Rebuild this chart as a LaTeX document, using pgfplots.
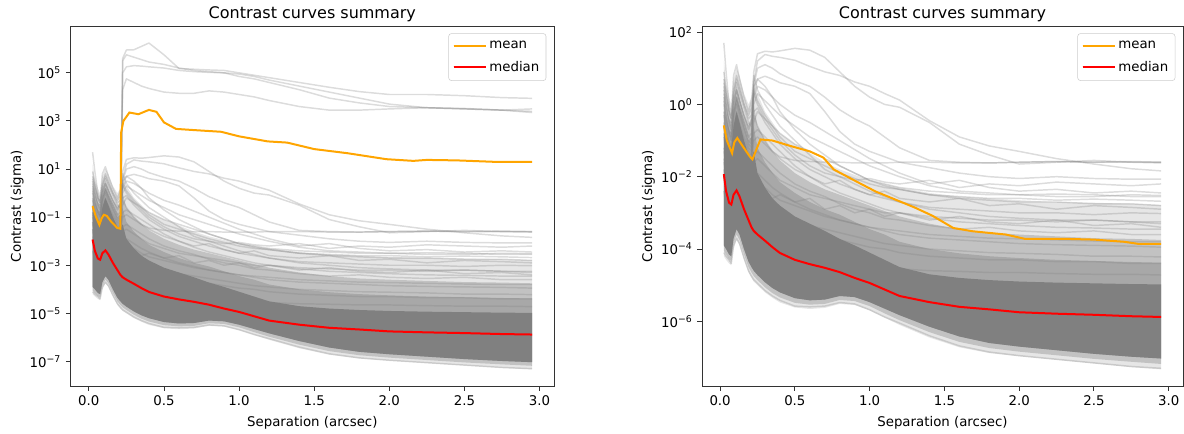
\documentclass[border=0pt]{standalone}
\usepackage{fontspec}
\setmainfont{DejaVu Sans}
\usepackage{pgfplots}
\usepackage{pgfplotstable}
\pgfplotsset{compat=1.18}
\usepgfplotslibrary{fillbetween}

\definecolor{mplorange}{RGB}{255,165,0}
\definecolor{mplred}{RGB}{255,0,0}
\definecolor{mplgray}{RGB}{128,128,128}

% all y values are log10(contrast)
% envelope of the bulk of the curves: outer, middle, upper dense and solid core, plus the median
\pgfplotstableread{
x     ol    oh    ml    mh    cl    ch    uh    md
0.025 -4.2   1.2  -4.05  0.3  -3.9  -0.6  -0.1  -1.93
0.04  -4.3   0.6  -4.15 -0.1  -4.0  -0.8  -0.4  -2.4
0.06  -4.4   0.2  -4.28 -0.4  -4.15 -1.1  -0.7  -2.72
0.075 -4.45  0.0  -4.32 -0.5  -4.2  -1.2  -0.8  -2.77
0.09  -4.0   0.7  -3.85  0.2  -3.7  -0.6  -0.2  -2.5
0.11  -3.75  1.0  -3.6   0.5  -3.45 -0.2   0.2  -2.38
0.13  -3.9   0.8  -3.75  0.2  -3.6  -0.5  -0.1  -2.55
0.16  -4.3   0.3  -4.15 -0.3  -4.0  -1.0  -0.6  -2.9
0.19  -4.65  0.0  -4.5  -0.6  -4.35 -1.4  -1.0  -3.2
0.21  -4.8   0.2  -4.65 -0.4  -4.5  -1.5  -0.9  -3.4
0.225 -4.9   0.6  -4.75  0.0  -4.6  -1.3  -0.6  -3.5
0.25  -5.0   0.3  -4.86 -0.6  -4.72 -1.9  -1.2  -3.6
0.3   -5.2  -0.2  -5.06 -1.0  -4.92 -2.3  -1.6  -3.77
0.35  -5.35 -0.5  -5.22 -1.3  -5.08 -2.6  -1.9  -3.95
0.4   -5.48 -0.8  -5.34 -1.55 -5.2  -2.8  -2.15 -4.11
0.5   -5.62 -1.1  -5.49 -1.9  -5.36 -3.1  -2.45 -4.3
0.6   -5.66 -1.35 -5.54 -2.15 -5.42 -3.3  -2.7  -4.42
0.7   -5.63 -1.6  -5.52 -2.35 -5.4  -3.5  -2.9  -4.52
0.8   -5.52 -1.8  -5.41 -2.5  -5.3  -3.72 -3.05 -4.64
0.9   -5.55 -1.95 -5.44 -2.65 -5.33 -3.9  -3.25 -4.8
1.0   -5.7  -2.1  -5.58 -2.8  -5.47 -4.1  -3.45 -4.94
1.1   -5.9  -2.2  -5.78 -2.95 -5.65 -4.3  -3.6  -5.12
1.2   -6.1  -2.3  -5.97 -3.1  -5.83 -4.5  -3.8  -5.3
1.4   -6.45 -2.45 -6.3  -3.3  -6.15 -4.7  -4.0  -5.47
1.6   -6.72 -2.55 -6.57 -3.45 -6.42 -4.8  -4.12 -5.6
1.8   -6.88 -2.6  -6.74 -3.55 -6.6  -4.86 -4.2  -5.67
2.0   -6.97 -2.65 -6.84 -3.6  -6.7  -4.9  -4.25 -5.75
2.25  -7.07 -2.7  -6.94 -3.65 -6.8  -4.93 -4.3  -5.79
2.5   -7.17 -2.72 -7.04 -3.7  -6.9  -4.95 -4.33 -5.82
2.75  -7.27 -2.75 -7.12 -3.72 -6.98 -4.97 -4.36 -5.86
2.95  -7.33 -2.78 -7.18 -3.75 -7.03 -4.98 -4.38 -5.88
}\band

% single curves: A-D only in the left panel (they go above 1e2)
\pgfplotstableread{
x     A     B     C     D     F     R1    R2    R3    R4    R5    R6    R7    R8    R9    R10   R11   R12   R13   R14   R15   R16   R17   R18   R19   R20   R21   R22   R23
0.025 -0.8  -1.2  -1.5  -1.0  -0.5   0.5   0.2  -0.2   0.0   0.6  -0.3  -0.8  -1.2  -1.5   0.9   1.7  -2.0  -4.1  -1.8   0.3  -0.9  -1.6   0.1  -1.3   0.7  -2.4  -0.6   0.4
0.04  -1.2  -1.6  -1.9  -1.4  -0.9   0.0  -0.3  -0.6  -0.4   0.2  -0.7  -1.1  -1.5  -1.8   0.4   0.9  -2.4  -4.2  -2.1   0.0  -1.3  -2.0  -0.3  -1.7   0.3  -2.8  -1.0   0.0
0.06  -1.5  -2.0  -2.3  -1.8  -1.3  -0.5  -0.8  -1.0  -0.8  -0.2  -1.1  -1.5  -1.8  -2.1  -0.2   0.0  -2.8  -4.3  -2.5  -0.5  -1.7  -2.4  -0.7  -2.1  -0.2  -3.2  -1.4  -0.4
0.075 -1.6  -2.1  -2.4  -1.9  -1.4  -0.8  -1.0  -1.2  -1.0  -0.4  -1.3  -1.6  -2.0  -2.3  -0.5  -0.3  -3.0  -4.4  -2.6  -0.7  -1.8  -2.5  -0.9  -2.2  -0.4  -3.3  -1.5  -0.6
0.09  -1.0  -1.5  -1.8  -1.3  -0.9  -0.2  -0.4  -0.6  -0.3   0.2  -0.7  -1.0  -1.4  -1.7   0.4   0.8  -2.3  -3.9  -2.0   0.0  -1.2  -1.9  -0.2  -1.6   0.3  -2.7  -0.9   0.0
0.11  -0.7  -1.1  -1.4  -0.9  -0.5   0.2   0.0  -0.2   0.1   0.6  -0.3  -0.6  -1.0  -1.3   0.8   1.1  -1.9  -3.7  -1.6   0.4  -0.8  -1.5   0.2  -1.2   0.7  -2.3  -0.5   0.4
0.13  -1.0  -1.4  -1.7  -1.2  -0.8  -0.1  -0.3  -0.5  -0.2   0.3  -0.6  -0.9  -1.3  -1.6   0.5   0.7  -2.2  -3.85 -1.9   0.1  -1.1  -1.8  -0.1  -1.5   0.4  -2.6  -0.8   0.1
0.16  -1.3  -1.7  -2.0  -1.5  -1.1  -0.5  -0.7  -0.9  -0.6  -0.1  -1.0  -1.2  -1.6  -1.9   0.0   0.2  -2.6  -4.25 -2.3  -0.3  -1.5  -2.2  -0.5  -1.9   0.0  -3.0  -1.2  -0.3
0.19  -1.5  -1.9  -2.2  -1.7  -1.4  -0.9  -1.1  -1.2  -1.0  -0.5  -1.3  -1.5  -1.9  -2.2  -0.4  -0.2  -2.9  -4.6  -2.6  -0.7  -1.8  -2.5  -0.9  -2.2  -0.3  -3.3  -1.5  -0.6
0.21  -1.6  -2.0  -2.3  -1.8  -1.4  -1.0  -1.2  -1.3  -1.1  -0.6  -1.4  -1.6  -2.0  -2.4  -0.3   0.1  -3.1  -4.75 -2.7  -0.5  -1.9  -2.7  -0.8  -2.3  -0.1  -3.5  -1.5  -0.4
0.225  5.6   5.5   5.0   4.3  -0.3   0.9   0.6   0.5   0.3   0.0  -0.5  -1.0  -1.6  -2.2   0.4   0.8  -3.0  -4.85 -2.3   0.2  -1.4  -2.6  -0.2  -2.0   0.3  -3.5  -0.8   0.5
0.25   5.95  5.75  5.25  4.75 -0.6   1.4   1.2   1.0   0.7   0.3  -0.2  -0.9  -1.5  -2.1   0.1   0.4  -2.9  -4.95 -2.2   0.5  -1.3  -2.5  -0.1  -1.9   0.0  -3.45 -0.7   0.7
0.3    5.96  5.65  5.3   4.6  -1.0   1.47  1.38  1.1   0.78  0.1  -0.4  -1.1  -1.7  -2.3  -0.3   0.0  -3.1  -5.15 -2.4   0.4  -1.5  -2.7  -0.5  -2.1  -0.4  -3.6  -0.9   0.5
0.35   6.1   5.55  5.28  4.45 -1.3   1.45  1.33  1.0   0.7  -0.1  -0.6  -1.3  -1.9  -2.5  -0.6  -0.3  -3.25 -5.3  -2.6   0.2  -1.7  -2.85 -0.8  -2.3  -0.7  -3.75 -1.1   0.2
0.4    6.24  5.45  5.25  4.35 -1.45  1.48  1.3   0.85  0.6  -0.3  -0.8  -1.5  -2.1  -2.65 -0.9  -0.6  -3.35 -5.42 -2.5   0.0  -1.9  -3.0  -1.1  -2.45 -1.0  -3.85 -1.3  -0.2
0.5    5.75  5.35  5.2   4.2  -1.55  1.55  1.22  0.65  0.5  -0.6  -1.1  -1.8  -2.3  -2.8  -1.3  -1.0  -3.5  -5.58 -2.7  -0.3  -2.2  -3.2  -1.5  -2.7  -1.4  -4.0  -1.7  -0.7
0.6    5.18  5.2   5.1   4.15 -1.58  1.5   1.05  0.5   0.3  -0.9  -1.3  -2.0  -2.5  -2.95 -1.5  -1.4  -3.6  -5.6  -2.6  -0.5  -2.4  -3.35 -1.8  -2.9  -1.7  -4.1  -2.0  -1.1
0.7    5.15  5.1   5.05  4.15 -1.6   1.3   0.9   0.2  -0.2  -1.1  -1.5  -2.2  -2.6  -3.1  -1.7  -1.8  -3.7  -5.58 -2.9  -0.75 -2.55 -3.45 -2.0  -3.05 -1.9  -4.2  -2.25 -1.4
0.8    5.12  5.05  5.02  4.25 -1.6   0.9   0.8  -0.15 -0.75 -1.3  -1.7  -2.1  -2.7  -3.2  -1.9  -2.0  -3.75 -5.48 -2.8  -1.0  -2.75 -3.55 -2.2  -3.2  -2.0  -4.25 -2.45 -1.7
0.9    5.1   5.0   5.0   4.2  -1.62  0.5   0.62 -0.4  -1.1  -1.5  -1.9  -2.35 -2.8  -3.3  -2.05 -2.2  -3.85 -5.52 -3.0  -1.25 -2.9  -3.65 -2.35 -3.3  -2.1  -4.35 -2.6  -1.9
1.0    5.0   4.95  4.85  4.1  -1.62  0.2   0.5  -0.6  -1.3  -1.7  -2.1  -2.5  -2.9  -3.4  -2.2  -2.4  -3.95 -5.68 -2.9  -1.5  -3.0  -3.75 -2.5  -3.4  -2.05 -4.45 -2.75 -2.1
1.1    4.9   4.85  4.75  4.0  -1.62  0.0   0.3  -0.9  -1.45 -1.85 -2.2  -2.4  -3.0  -3.45 -2.3  -2.55 -4.0  -5.88 -3.1  -1.7  -3.15 -3.85 -2.6  -3.5  -2.15 -4.5  -2.9  -2.25
1.2    4.8   4.7   4.6   3.85 -1.6  -0.08  0.12 -1.2  -1.6  -2.0  -2.3  -2.6  -3.0  -3.5  -2.35 -2.7  -4.1  -6.05 -3.0  -1.9  -3.2  -3.9  -2.7  -3.6  -2.2  -4.55 -3.0  -2.35
1.4    4.6   4.45  4.3   3.6  -1.6  -0.5  -0.45 -1.55 -1.75 -2.25 -2.4  -2.7  -3.1  -3.6  -2.5  -2.9  -4.2  -6.4  -3.2  -2.2  -3.35 -4.0  -2.85 -3.7  -2.1  -4.6  -3.15 -2.5
1.6    4.4   4.2   3.95  3.45 -1.62 -1.1  -0.9  -1.6  -1.9  -2.4  -2.45 -2.6  -3.15 -3.65 -2.6  -3.0  -4.25 -6.68 -3.1  -2.1  -3.45 -4.05 -2.9  -3.75 -2.3  -4.62 -3.25 -2.55
1.8    4.22  3.95  3.75  3.45 -1.62 -1.4  -1.15 -1.62 -2.0  -2.45 -2.5  -2.8  -3.2  -3.7  -2.65 -3.1  -4.3  -6.85 -3.25 -2.3  -3.4  -4.1  -2.95 -3.8  -2.2  -4.65 -3.3  -2.6
2.0    4.1   3.7   3.6   3.5  -1.6  -1.65 -1.3  -1.6  -2.05 -2.5  -2.5  -2.75 -3.2  -3.72 -2.7  -3.15 -4.3  -6.95 -3.3  -2.4  -3.5  -4.12 -3.0  -3.85 -2.25 -4.65 -3.35 -2.6
2.25   4.1   3.55  3.55  3.55 -1.58 -1.6  -1.5  -1.58 -2.0  -2.55 -2.48 -2.9  -3.25 -3.75 -2.7  -3.2  -4.35 -7.05 -3.2  -2.35 -3.55 -4.15 -3.0  -3.88 -2.15 -4.68 -3.4  -2.65
2.5    4.05  3.5   3.5   3.52 -1.6  -1.55 -1.65 -1.6  -2.05 -2.55 -2.5  -2.8  -3.2  -3.78 -2.75 -3.2  -4.35 -7.15 -3.35 -2.45 -3.5  -4.2  -3.05 -3.9  -2.2  -4.7  -3.42 -2.62
2.75   3.97  3.45  3.45  3.45 -1.6  -1.6  -1.78 -1.58 -2.07 -2.5  -2.55 -2.85 -3.25 -3.8  -2.75 -3.25 -4.4  -7.25 -3.3  -2.4  -3.6  -4.2  -3.0  -3.92 -2.25 -4.7  -3.45 -2.65
2.95   3.94  3.4   3.5   3.35 -1.6  -1.62 -1.84 -1.6  -2.07 -2.52 -2.55 -2.9  -3.3  -3.8  -2.8  -3.25 -4.4  -7.3  -3.4  -2.45 -3.6  -4.22 -3.02 -3.95 -2.2  -4.72 -3.45 -2.68
}\curves

% mean with the outliers (left) and without them (right)
\pgfplotstableread{
x     y
0.025 -0.54
0.045 -0.95
0.07  -1.32
0.085 -1.05
0.1   -0.90
0.12  -0.95
0.15  -1.2
0.19  -1.45
0.21  -1.48
0.215  2.52
0.23   3.0
0.27   3.35
0.33   3.28
0.4    3.46
0.45   3.38
0.5    2.94
0.58   2.67
0.7    2.62
0.88   2.55
1.0    2.36
1.19   2.15
1.32   2.1
1.5    1.83
1.72   1.66
1.98   1.41
2.16   1.34
2.25   1.38
2.45   1.36
2.7    1.30
2.95   1.30
}\meanL
\pgfplotstableread{
x     y
0.025 -0.58
0.045 -1.0
0.08  -1.35
0.095 -1.05
0.115 -0.93
0.15  -1.15
0.2   -1.45
0.216 -1.52
0.27  -0.97
0.35  -1.0
0.47  -1.15
0.6   -1.3
0.69  -1.47
0.76  -1.8
0.91  -2.13
1.04  -2.41
1.2   -2.68
1.3   -2.85
1.42  -3.08
1.56  -3.42
1.69  -3.51
1.91  -3.6
2.04  -3.72
2.31  -3.72
2.5   -3.74
2.7   -3.8
2.8   -3.86
2.95  -3.86
}\meanR

\newcommand\bands[1]{%
  \addplot[name path=ol#1, draw=none, forget plot] table[x=x, y=ol]{\band};
  \addplot[name path=oh#1, draw=none, forget plot] table[x=x, y=oh]{\band};
  \addplot[name path=ml#1, draw=none, forget plot] table[x=x, y=ml]{\band};
  \addplot[name path=mh#1, draw=none, forget plot] table[x=x, y=mh]{\band};
  \addplot[name path=cl#1, draw=none, forget plot] table[x=x, y=cl]{\band};
  \addplot[name path=ch#1, draw=none, forget plot] table[x=x, y=ch]{\band};
  \addplot[name path=uh#1, draw=none, forget plot] table[x=x, y=uh]{\band};
  \addplot[fill=mplgray, fill opacity=0.2, draw=none, forget plot] fill between[of=ol#1 and oh#1];
  \addplot[fill=mplgray, fill opacity=0.35, draw=none, forget plot] fill between[of=ml#1 and mh#1];
  \addplot[fill=mplgray, fill opacity=0.4, draw=none, forget plot] fill between[of=cl#1 and uh#1];
  \addplot[fill=mplgray, draw=none, forget plot] fill between[of=cl#1 and ch#1];
}

\pgfplotsset{
  contrast/.style={
    scale only axis, height=269.5pt,
    xmin=-0.121, xmax=3.096,
    xtick={0,0.5,1,1.5,2,2.5,3},
    xticklabels={0.0,0.5,1.0,1.5,2.0,2.5,3.0},
    tick pos=left, tick align=outside,
    major tick length=3.65pt,
    every tick/.style={black!80, line width=0.7pt},
    axis line style={black!80, line width=0.7pt},
    tick label style={font=\fontsize{10}{12}\selectfont},
    label style={font=\fontsize{10}{12}\selectfont},
    title={Contrast curves summary},
    title style={at={(0.5,1)}, anchor=base, yshift=0.2pt, font=\fontsize{12}{14}\selectfont},
    xlabel={Separation (arcsec)},
    xlabel style={at={(axis description cs:0.5,0)}, anchor=base, yshift=-30.5pt},
    ylabel={Contrast (sigma)},
    legend style={at={(1,1)}, anchor=north east, xshift=-5.8pt, yshift=-5pt,
      draw=black!20, fill=white, rounded corners=2pt,
      font=\fontsize{10}{12}\selectfont, inner xsep=3pt, inner ysep=3.5pt,
      row sep=4pt, cells={anchor=west}},
    legend image code/.code={\draw[##1] (0pt,0pt) -- (21pt,0pt); \path (0pt,0pt) -- (24pt,0pt);},
  },
  gcurve/.style={mplgray, opacity=0.28, line width=1.1pt, line join=round, forget plot},
}

\begin{document}
\begin{tikzpicture}

\begin{axis}[contrast,
  at={(53pt,35.25pt)}, anchor=south west, width=362.5pt,
  ymin=-8.02, ymax=6.92,
  ytick={-7,-5,-3,-1,1,3,5},
  yticklabels={10\textsuperscript{−7},10\textsuperscript{−5},10\textsuperscript{−3},10\textsuperscript{−1},10\textsuperscript{1},10\textsuperscript{3},10\textsuperscript{5}},
  ylabel style={at={(axis description cs:-0.1106,0.5)}, anchor=center},
]
  \bands{a}
  \pgfplotsinvokeforeach{A,B,C,D,F,R1,R2,R3,R4,R5,R6,R7,R8,R9,R10,R11,R12,R13,R14,R15,R16,R17,R18,R19,R20,R21,R22,R23}{
    \addplot[gcurve] table[x=x, y=#1]{\curves};
  }
  \addplot[mplorange, line width=1.5pt] table[x=x, y=y]{\meanL};
  \addlegendentry{mean}
  \addplot[mplred, line width=1.5pt] table[x=x, y=md]{\band};
  \addlegendentry{median}
\end{axis}

\begin{axis}[contrast,
  at={(526.5pt,35.25pt)}, anchor=south west, width=360.75pt,
  ymin=-7.79, ymax=2.15,
  ytick={-6,-4,-2,0,2},
  yticklabels={10\textsuperscript{−6},10\textsuperscript{−4},10\textsuperscript{−2},10\textsuperscript{0},10\textsuperscript{2}},
  ylabel style={at={(axis description cs:-0.1112,0.5)}, anchor=center},
]
  \bands{b}
  \pgfplotsinvokeforeach{F,R1,R2,R3,R4,R5,R6,R7,R8,R9,R10,R11,R12,R13,R14,R15,R16,R17,R18,R19,R20,R21,R22,R23}{
    \addplot[gcurve] table[x=x, y=#1]{\curves};
  }
  \addplot[mplorange, line width=1.5pt] table[x=x, y=y]{\meanR};
  \addlegendentry{mean}
  \addplot[mplred, line width=1.5pt] table[x=x, y=md]{\band};
  \addlegendentry{median}
\end{axis}

\pgfresetboundingbox
\path[use as bounding box] (0,0) rectangle (888pt,324.75pt);
\end{tikzpicture}
\end{document}
